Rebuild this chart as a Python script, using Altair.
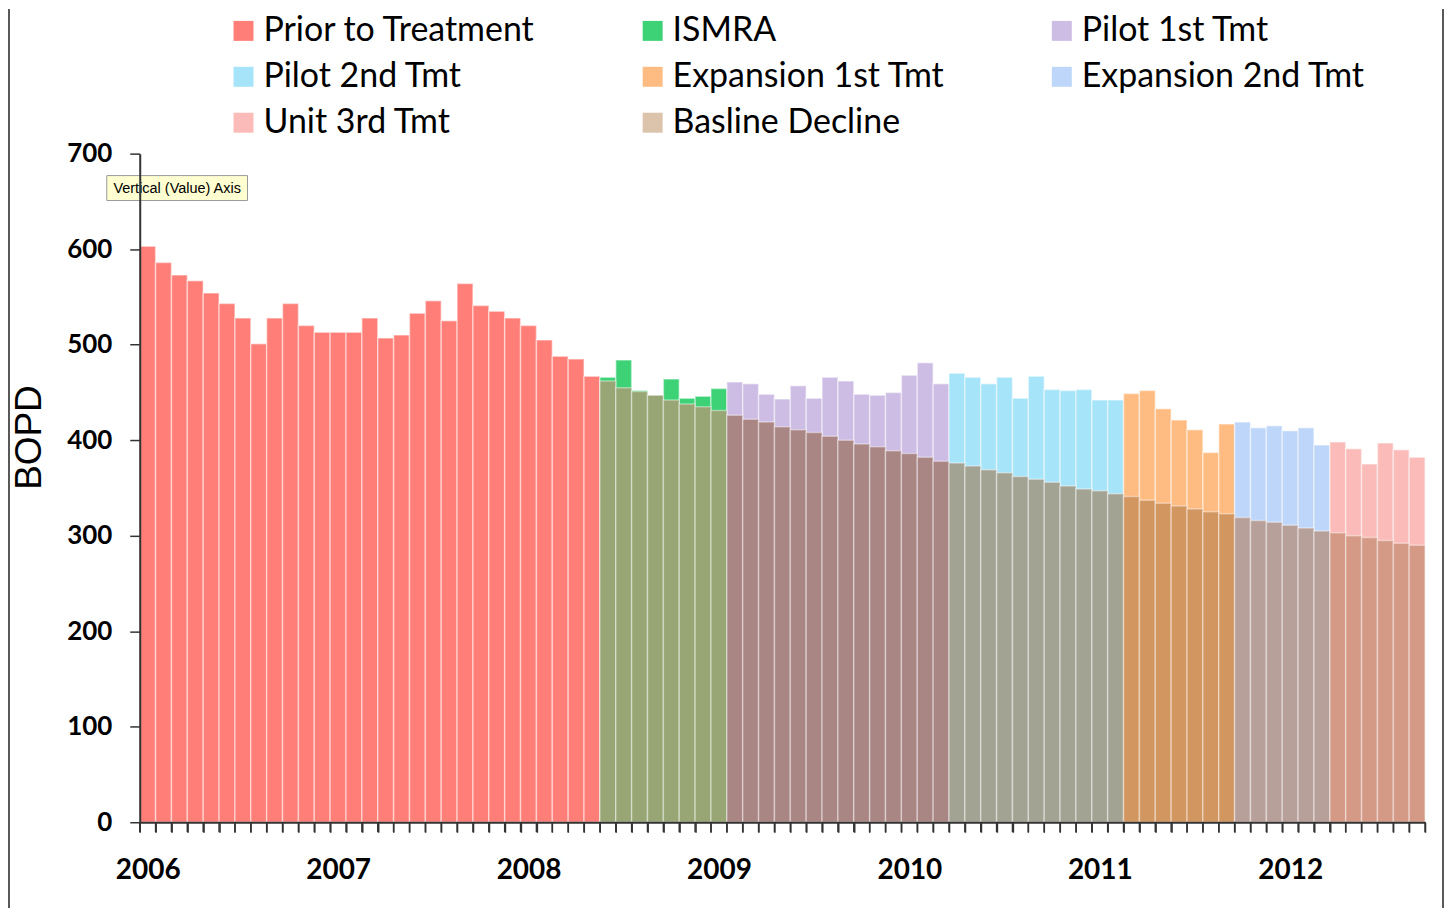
import altair as alt
import pandas as pd

# ---- data ----
phases = ["Prior to Treatment", "ISMRA", "Pilot 1st Tmt", "Pilot 2nd Tmt",
          "Expansion 1st Tmt", "Expansion 2nd Tmt", "Unit 3rd Tmt", "Basline Decline"]
phase_months = [29, 8, 14, 11, 7, 6, 6]  # number of monthly bars per phase (Jan 2006 - Sep 2012)

prior = [603, 586, 573, 567, 554, 543, 528, 501, 528, 543, 520, 513, 513, 513, 528,
         507, 510, 533, 546, 525, 564, 541, 535, 528, 520, 505, 488, 485, 467]
ismra = [466, 484, 452, 436, 464, 444, 446, 454]
pilot1 = [461, 459, 448, 443, 457, 444, 466, 462, 448, 447, 450, 468, 481, 459]
pilot2 = [470, 466, 459, 466, 444, 467, 453, 452, 453, 442, 442]
exp1 = [449, 452, 433, 421, 411, 387, 417]
exp2 = [419, 413, 415, 410, 413, 395]
unit3 = [398, 391, 375, 397, 390, 382]

baseline = [462, 455, 451, 447, 442, 438, 435, 431,
            426, 422, 419, 414, 411, 408, 404, 400, 396, 393, 389, 386, 382, 378,
            376, 373, 369, 366, 362, 359, 356, 352, 349, 347, 344,
            341, 337, 334, 331, 328, 325, 323,
            319, 316, 314, 311, 308, 305,
            303, 300, 298, 295, 292, 290]

bar_colors = ["#FF7F78", "#3ED277", "#CDBDE4", "#A6E4F9",
              "#FFBC82", "#BED6F9", "#FBBCB9", "#DCC3AB"]
overlay_colors = ["#D4B29C", "#97A674", "#A98584", "#A3A394",
                  "#D29660", "#B8A09A", "#D49A86"]

start_year = 2006

# ---- build tables ----
series = [prior, ismra, pilot1, pilot2, exp1, exp2, unit3]
rows = []
i = 0
for p, vals in zip(phases[:7], series):
    for v in vals:
        rows.append({"i": i, "i2": i + 1, "actual": v, "phase": p})
        i += 1
df = pd.DataFrame(rows)
n_months = len(df)

first_b = phase_months[0]
bdf = df.iloc[first_b:].copy()
bdf["baseline"] = baseline

ticks_df = pd.DataFrame({"t": list(range(n_months + 1))})

W, H = 1288, 670

xscale = alt.Scale(domain=[0, n_months], nice=False, zero=False)
yscale = alt.Scale(domain=[0, 700], nice=False)

x_axis = alt.Axis(
    values=list(range(0, n_months + 1)),
    tickCount=n_months + 1,
    labelExpr=f"datum.value % 12 == 0 && datum.value < {n_months} ? toString({start_year} + datum.value / 12) : ''",
    labelFont="Lato", labelFontSize=28, labelFontWeight="bold", labelColor="#000",
    labelOffset=8, labelFlush=False, labelOverlap=False, labelBound=False,
    labelPadding=24, tickSize=10, tickWidth=1.5, tickColor="#333",
    domainColor="#333", domainWidth=2, grid=False, title=None, zindex=1,
)
y_axis = alt.Axis(
    values=list(range(0, 701, 100)),
    labelFont="Lato", labelFontSize=26, labelFontWeight="bold", labelColor="#000",
    labelPadding=18, tickSize=10, tickWidth=1.5, tickColor="#333",
    domainColor="#333", domainWidth=2, grid=False, zindex=1,
    title="BOPD", titleFont="Liberation Sans", titleFontSize=37, titleFontWeight="normal",
    titleColor="#000", titleAngle=-90, titleX=-110, titleY=284,
    titleAlign="center", titleBaseline="middle",
)

main = alt.Chart(df).mark_bar(stroke="white", strokeOpacity=0.45, strokeWidth=1.5).encode(
    x=alt.X("i:Q", scale=xscale, axis=x_axis),
    x2="i2:Q",
    y=alt.Y("actual:Q", scale=yscale, axis=y_axis),
    y2=alt.datum(0),
    color=alt.Color("phase:N", scale=alt.Scale(domain=phases, range=bar_colors),
                    legend=alt.Legend(
                        title=None, orient="none", legendX=87, legendY=-140,
                        columns=3, columnPadding=100, rowPadding=12,
                        symbolType="square", symbolSize=400, symbolStrokeWidth=0,
                        labelFont="Lato", labelFontSize=34, labelColor="#000",
                        labelLimit=500, labelOffset=3, direction="horizontal",
                    )),
)

overlay = alt.Chart(bdf).mark_bar(stroke="white", strokeOpacity=0.4, strokeWidth=1.5).encode(
    x=alt.X("i:Q", scale=xscale, axis=x_axis),
    x2="i2:Q",
    y=alt.Y("baseline:Q", scale=yscale, axis=y_axis),
    y2=alt.datum(0),
    color=alt.Color("phase:N", scale=alt.Scale(domain=phases[:7], range=overlay_colors), legend=None),
)

# monthly tick marks below the x axis (one per bar boundary)
month_ticks = alt.Chart(ticks_df).mark_rule(color="#333", strokeWidth=1.5).encode(
    x=alt.X("t:Q", scale=xscale, axis=x_axis),
    y=alt.value(H),
    y2=alt.value(H + 10),
)

# screenshot tooltip box
tip_box = alt.Chart(pd.DataFrame({"t": ["Vertical (Value) Axis"]})).mark_rect(
    fill="#FFFFD2", stroke="#9a9a9a", strokeWidth=1
).encode(x=alt.value(-33), x2=alt.value(108), y=alt.value(22), y2=alt.value(47))
tip_text = alt.Chart(pd.DataFrame({"t": ["Vertical (Value) Axis"]})).mark_text(
    font="Liberation Sans", fontSize=14.5, color="#000", align="center", baseline="middle"
).encode(x=alt.value(37.5), y=alt.value(35), text="t:N")

# outer frame lines of the picture
frame_l = alt.Chart(pd.DataFrame({"k": [0]})).mark_rule(color="#222", strokeWidth=1.5).encode(
    x=alt.value(-131), y=alt.value(-145), y2=alt.value(760)
)
frame_r = alt.Chart(pd.DataFrame({"k": [0]})).mark_rule(color="#222", strokeWidth=1.5).encode(
    x=alt.value(1306), y=alt.value(-145), y2=alt.value(760)
)

chart = alt.layer(main, overlay, month_ticks, tip_box, tip_text, frame_l, frame_r).resolve_scale(
    color="independent"
).properties(
    width=W, height=H,
    autosize=alt.AutoSizeParams(type="none"),
    padding={"left": 132, "top": 145, "right": 20, "bottom": 85},
).configure_view(stroke=None)

chart.save("out.html", embed_options={"renderer": "svg", "actions": False})
